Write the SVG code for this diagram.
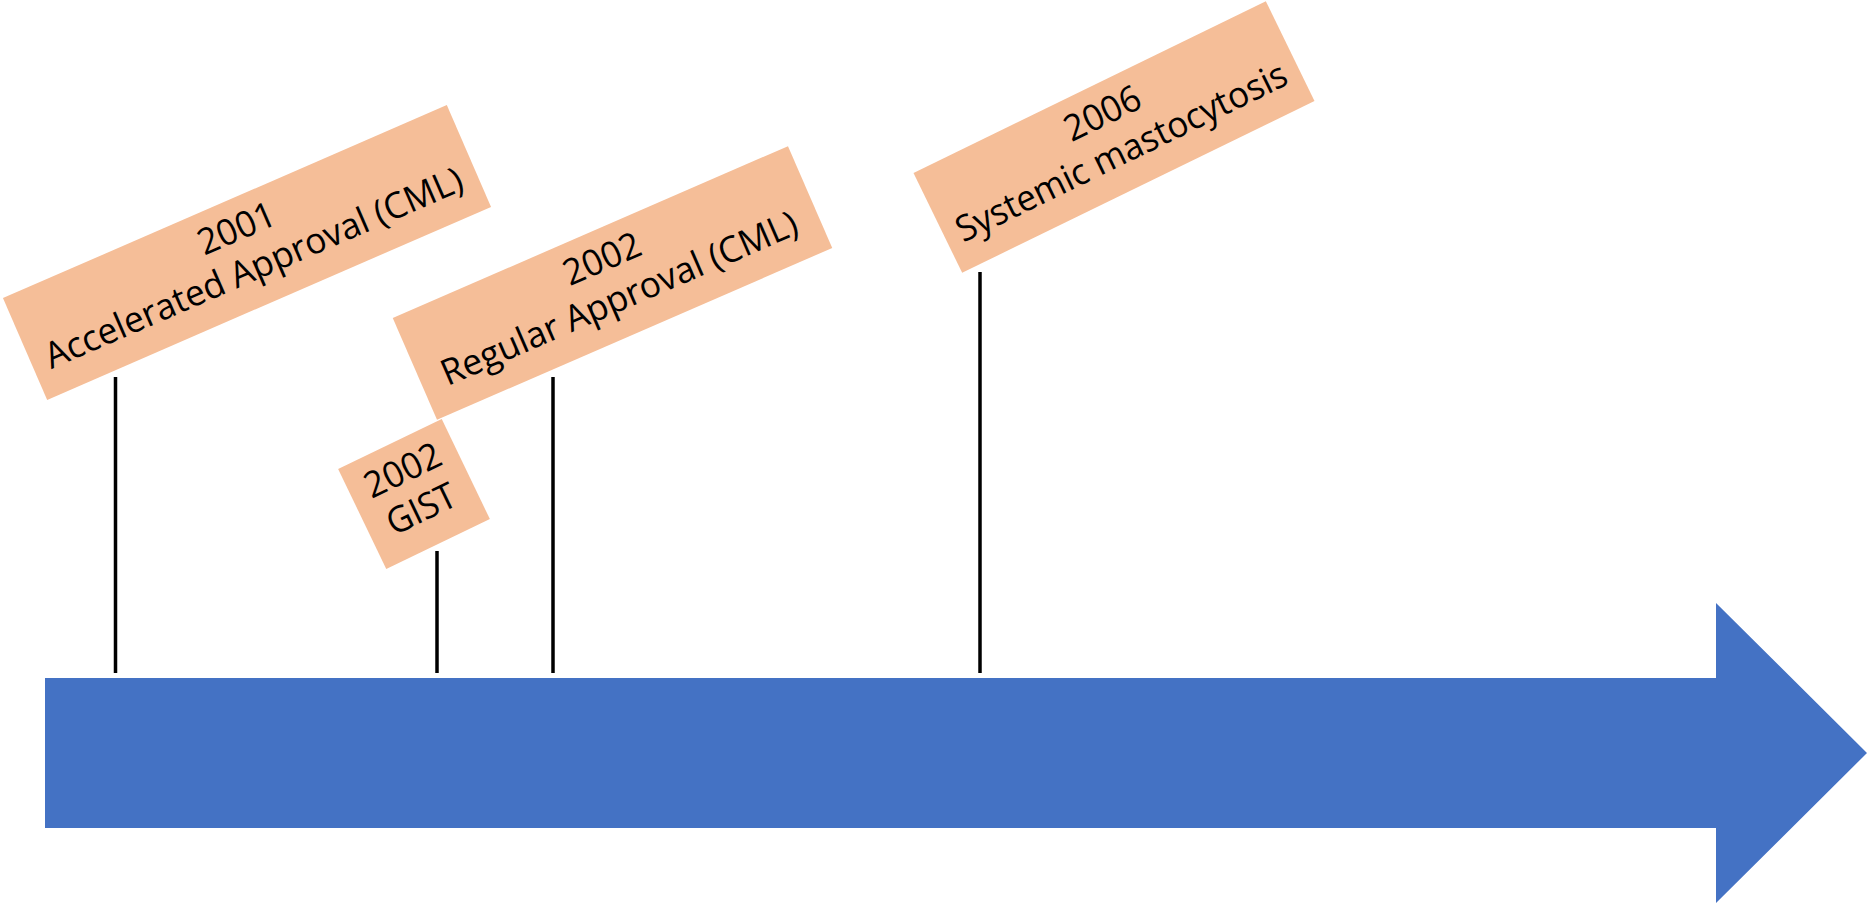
<svg xmlns="http://www.w3.org/2000/svg" width="1867" height="904" viewBox="0 0 1867 904">
<style>
.box{fill:#F5BE98;}
.t{font-family:"Open Sans","Noto Sans","Liberation Sans",sans-serif;font-size:36px;fill:#000;text-anchor:middle;}
.stem{stroke:#000;stroke-width:3.5;fill:none;}
</style>
<rect width="1867" height="904" fill="#fff"/>
<g id="timeline">
<polygon points="45,678 1716,678 1716,603 1867,753 1716,903 1716,828 45,828" fill="#4472C4"/>
</g>
<g id="connectors">
<line class="stem" x1="115.5" y1="377" x2="115.5" y2="673"/>
<line class="stem" x1="437" y1="551" x2="437" y2="673"/>
<line class="stem" x1="553" y1="377" x2="553" y2="673"/>
<line class="stem" x1="980" y1="272" x2="980" y2="673"/>
</g>
<g id="node-2001" transform="translate(247 252.5) rotate(-23.5)">
<rect class="box" x="-242" y="-55.5" width="484" height="111"/>
<text class="t" x="0" y="-14" textLength="81" lengthAdjust="spacingAndGlyphs">2001</text>
<text class="t" x="0" y="29" textLength="452" lengthAdjust="spacingAndGlyphs">Accelerated Approval (CML)</text>
</g>
<g id="node-2002-cml" transform="translate(612.5 283) rotate(-23.5)">
<rect class="box" x="-215.5" y="-55.5" width="431" height="111"/>
<text class="t" x="0" y="-14" textLength="81" lengthAdjust="spacingAndGlyphs">2002</text>
<text class="t" x="0" y="29" textLength="385" lengthAdjust="spacingAndGlyphs">Regular Approval (CML)</text>
</g>
<g id="node-2002-gist" transform="translate(414 494) rotate(-25.7)">
<rect class="box" x="-57.5" y="-55.5" width="115" height="111"/>
<text class="t" x="0" y="-14" textLength="81" lengthAdjust="spacingAndGlyphs">2002</text>
<text class="t" x="0" y="29" textLength="73" lengthAdjust="spacingAndGlyphs">GIST</text>
</g>
<g id="node-2006" transform="translate(1114 137) rotate(-26)">
<rect class="box" x="-196" y="-55.5" width="392" height="111"/>
<text class="t" x="0" y="-14" textLength="81" lengthAdjust="spacingAndGlyphs">2006</text>
<text class="t" x="0" y="29" textLength="364" lengthAdjust="spacingAndGlyphs">Systemic mastocytosis</text>
</g>
</svg>
